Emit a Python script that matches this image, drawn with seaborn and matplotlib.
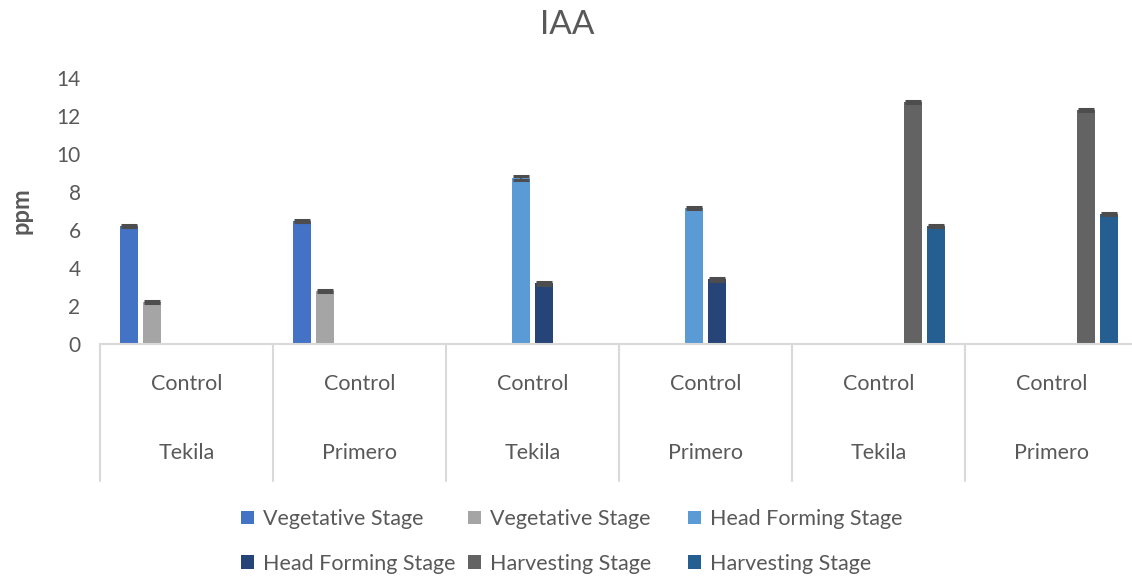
import numpy as np
import pandas as pd
import matplotlib
matplotlib.use("Agg")
import matplotlib.pyplot as plt
import seaborn as sns
from matplotlib.patches import Patch
from matplotlib.container import BarContainer

# ---- data ----
cultivars = ["Tekila", "Primero", "Tekila", "Primero", "Tekila", "Primero"]
treatments = ["Control", "Control", "Control", "Control", "Control", "Control"]
series_labels = ["Vegetative Stage", "Vegetative Stage", "Head Forming Stage",
                 "Head Forming Stage", "Harvesting Stage", "Harvesting Stage"]
series_colors = ["#4472C4", "#A5A5A5", "#5B9BD5", "#264478", "#636363", "#255E91"]
nan = np.nan
veg_a = [6.22, 6.47, nan, nan, nan, nan]
veg_b = [2.23, 2.78, nan, nan, nan, nan]
head_a = [nan, nan, 8.72, 7.14, nan, nan]
head_b = [nan, nan, 3.19, 3.42, nan, nan]
harv_a = [nan, nan, nan, nan, 12.75, 12.32]
harv_b = [nan, nan, nan, nan, 6.21, 6.83]
err_a = [0.06, 0.05, 0.10, 0.06, 0.05, 0.04]
err_b = [0.05, 0.05, 0.06, 0.08, 0.06, 0.06]

series_values = [veg_a, veg_b, head_a, head_b, harv_a, harv_b]
series_errs = [err_a, err_b, err_a, err_b, err_a, err_b]

rows = []
for s, (vals, errs) in enumerate(zip(series_values, series_errs)):
    for g, (v, e) in enumerate(zip(vals, errs)):
        if not np.isnan(v):
            rows.append({"group": f"g{g}", "series": f"s{s}", "value": v, "err": e, "gi": g, "si": s})
df = pd.DataFrame(rows)
group_order = [f"g{g}" for g in range(6)]
series_order = [f"s{s}" for s in range(6)]
palette = {f"s{s}": c for s, c in enumerate(series_colors)}

# ---- figure ----
sns.set_theme(style="white")
plt.rcParams["font.family"] = ["Lato", "DejaVu Sans"]
text_color = "#595959"

fig = plt.figure(figsize=(11.32, 5.77), dpi=100)
W, H = 1132, 577
ax = fig.add_axes([100 / W, (H - 344) / H, 1038 / W, (344 - 78) / H])

sns.barplot(data=df, x="group", y="value", hue="series", order=group_order,
            hue_order=series_order, palette=palette, gap=0.22, width=0.8,
            errorbar=None, saturation=1, legend=False, ax=ax, linewidth=0)

# error bars
err_lookup = {(r.gi, r.si): r.err for r in df.itertuples()}
bar_conts = [c for c in ax.containers if isinstance(c, BarContainer)]
for cont in bar_conts:
    for p in cont.patches:
        h = p.get_height()
        if np.isnan(h) or h == 0:
            continue
        xc = p.get_x() + p.get_width() / 2
        gi = int(round(xc))
        si = int(round((xc - gi) / (0.8 / 6) + 2.5))
        e = err_lookup.get((gi, si), 0.05)
        ax.errorbar(xc, h, yerr=e, fmt="none", ecolor="#4d4d4d",
                    elinewidth=1.2, capsize=6, capthick=2.2, zorder=5)

ax.set_xlim(-0.5, 5.5)
ax.set_ylim(0, 14)
ax.set_yticks(range(0, 15, 2))
ax.tick_params(axis="y", labelsize=15, labelcolor=text_color, length=0, pad=14)
ax.set_xticks([])
ax.set_xlabel("")
ax.set_ylabel("ppm", fontsize=17, fontweight="bold", color=text_color, labelpad=17)
for side in ["left", "right", "top"]:
    ax.spines[side].set_visible(False)
ax.spines["bottom"].set_color("#D9D9D9")
ax.spines["bottom"].set_linewidth(1.5)

# two-level category axis
trans = ax.get_xaxis_transform()
ax_h = 344 - 78
for b in np.arange(-0.5, 6.0, 1.0):
    ax.plot([b, b], [0, -(481 - 344) / ax_h], transform=trans, color="#D9D9D9",
            lw=1.5, clip_on=False)
for g in range(6):
    ax.text(g, -(384 - 344) / ax_h, treatments[g], transform=trans, ha="center",
            va="center", fontsize=15.5, color=text_color)
    ax.text(g, -(453 - 344) / ax_h, cultivars[g], transform=trans, ha="center",
            va="center", fontsize=15.5, color=text_color)

fig.text(567 / W, 1 - 25 / H, "IAA", ha="center", va="center", fontsize=24, color=text_color)

# legend: three equal-width columns, two rows
columns = [[0, 3], [1, 4], [2, 5]]
col_x = [241, 468, 688]
for idxs, x0 in zip(columns, col_x):
    handles = [Patch(facecolor=series_colors[i], edgecolor="none") for i in idxs]
    labels = [series_labels[i] for i in idxs]
    leg = fig.legend(handles, labels, ncol=1, loc="upper left",
                     bbox_to_anchor=(x0 / W, 1 - 509 / H), borderpad=0, borderaxespad=0,
                     frameon=False, fontsize=15.5, labelcolor=text_color, handlelength=0.6,
                     handleheight=0.6, handletextpad=0.4, labelspacing=1.15)

fig.savefig("out.png", dpi=100)
